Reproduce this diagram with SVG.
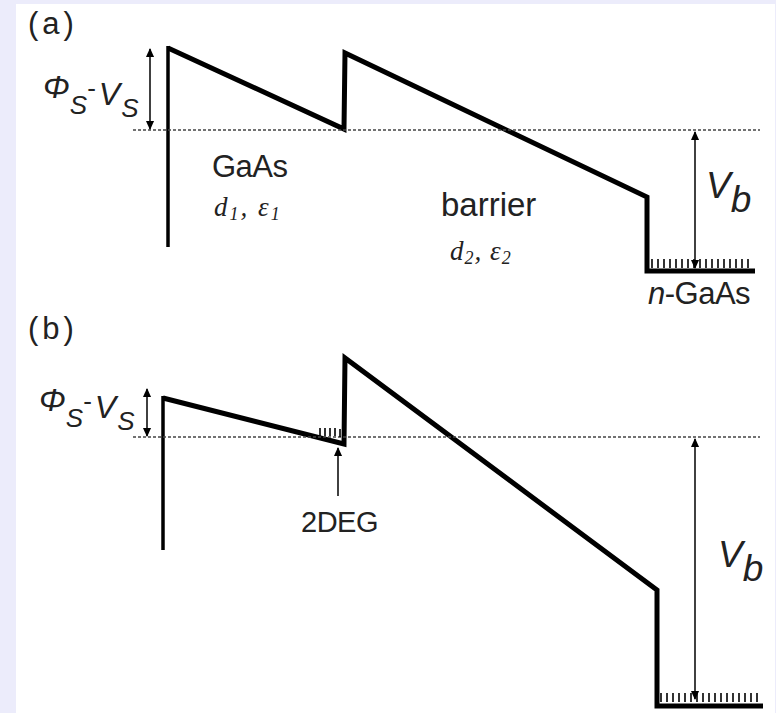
<svg xmlns="http://www.w3.org/2000/svg" width="776" height="713" viewBox="0 0 776 713">
<defs>
<style>
.band{fill:none;stroke:#000;stroke-width:5;stroke-linejoin:miter}
.wall{fill:none;stroke:#000;stroke-width:3.5}
.fermi{fill:none;stroke:#444;stroke-width:1.5;stroke-dasharray:3 2}
.arr{fill:none;stroke:#111;stroke-width:1.6}
.hatch{fill:none;stroke:#000;stroke-width:1.6}
.lbl{font-family:"Liberation Sans",Arial,sans-serif;fill:#222}
.it{font-family:"Liberation Sans",Arial,sans-serif;font-style:italic;fill:#222}
.ser{font-family:"Liberation Serif","Times New Roman",serif;font-style:italic;fill:#222}
</style>
<marker id="ahb" viewBox="0 0 10 10" refX="9" refY="5" markerWidth="14" markerHeight="9" markerUnits="userSpaceOnUse" orient="auto-start-reverse">
<path d="M0,0.5 L10,5 L0,9.5 Z" fill="#000"/>
</marker>
</defs>
<rect x="0" y="0" width="776" height="713" fill="#ececfb"/>
<rect x="16" y="4" width="759" height="709" fill="#fff"/>

<g id="panel-a">
<text class="lbl" x="28" y="34" font-size="31" letter-spacing="4">(a)</text>
<g id="a-band">
<line class="wall" x1="168" y1="46" x2="168" y2="247"/>
<polyline class="band" points="168,48 344,129 345,53 647,197 647,271 755,271"/>
</g>
<g id="a-fermi"><line class="fermi" x1="133" y1="130" x2="760" y2="130"/></g>
<g id="a-hatch">
<path class="hatch" d="M652,259v9M658,259v9M664,259v9M670,259v9M676,259v9M682,259v9M688,259v9M694,259v9M700,259v9M706,259v9M712,259v9M718,259v9M724,259v9M730,259v9M736,259v9M742,259v9M748,259v9"/>
</g>
<g id="a-phi">
<line class="arr" x1="150" y1="49" x2="150" y2="129" marker-start="url(#ahb)" marker-end="url(#ahb)"/>
<text x="43" y="98"><tspan class="it" font-size="32">Φ</tspan><tspan class="it" font-size="26" dy="16">S</tspan><tspan class="lbl" font-size="26" dy="-17">-</tspan><tspan class="it" font-size="32" dx="3" dy="8">V</tspan><tspan class="it" font-size="26" dx="1" dy="12">S</tspan></text>
</g>
<g id="a-vb">
<line class="arr" x1="695" y1="132" x2="695" y2="268" marker-start="url(#ahb)" marker-end="url(#ahb)"/>
<text x="706" y="198" font-size="37" class="it">V<tspan dy="14">b</tspan></text>
</g>
<g id="a-gaas">
<text class="lbl" x="212" y="177" font-size="31" letter-spacing="-0.5">GaAs</text>
<text class="ser" x="214" y="216" font-size="27" letter-spacing="2">d<tspan font-size="18" dy="4">1</tspan><tspan dy="-4">, ε</tspan><tspan font-size="18" dy="4">1</tspan></text>
</g>
<g id="a-barrier">
<text class="lbl" x="441" y="216" font-size="33">barrier</text>
<text class="ser" x="450" y="260" font-size="27" letter-spacing="1">d<tspan font-size="18" dy="4">2</tspan><tspan dy="-4">, ε</tspan><tspan font-size="18" dy="4">2</tspan></text>
</g>
<g id="a-ngaas">
<text x="648" y="304" font-size="31" class="lbl" letter-spacing="-0.5"><tspan class="it">n</tspan>-GaAs</text>
</g>
</g>

<g id="panel-b">
<text class="lbl" x="28" y="339" font-size="31" letter-spacing="4">(b)</text>
<g id="b-band">
<line class="wall" x1="163" y1="396" x2="163" y2="550"/>
<polyline class="band" points="163,398 344,444 345,358 657,590 657,706 763,706"/>
</g>
<g id="b-fermi"><line class="fermi" x1="133" y1="437" x2="760" y2="437"/></g>
<g id="b-hatch2deg">
<path class="hatch" d="M320,428v8M325,428v8M330,428v8M335,428v8M340,429v8"/>
</g>
<g id="b-hatch">
<path class="hatch" d="M661,693v9M667,693v9M673,693v9M679,693v9M685,693v9M691,693v9M697,693v9M703,693v9M709,693v9M715,693v9M721,693v9M727,693v9M733,693v9M739,693v9M745,693v9M751,693v9M757,693v9"/>
</g>
<g id="b-phi">
<line class="arr" x1="147" y1="389" x2="147" y2="436" marker-start="url(#ahb)" marker-end="url(#ahb)"/>
<text x="39" y="411"><tspan class="it" font-size="32">Φ</tspan><tspan class="it" font-size="26" dy="16">S</tspan><tspan class="lbl" font-size="26" dy="-17">-</tspan><tspan class="it" font-size="32" dx="3" dy="8">V</tspan><tspan class="it" font-size="26" dx="1" dy="12">S</tspan></text>
</g>
<g id="b-2deg">
<line class="arr" x1="338" y1="496" x2="338" y2="448" marker-end="url(#ahb)"/>
<text class="lbl" x="301" y="532" font-size="29" letter-spacing="-0.5">2DEG</text>
</g>
<g id="b-vb">
<line class="arr" x1="695" y1="439" x2="695" y2="699" stroke="#555" marker-start="url(#ahb)" marker-end="url(#ahb)"/>
<text x="718" y="567" font-size="37" class="it">V<tspan dy="14">b</tspan></text>
</g>
</g>
</svg>
